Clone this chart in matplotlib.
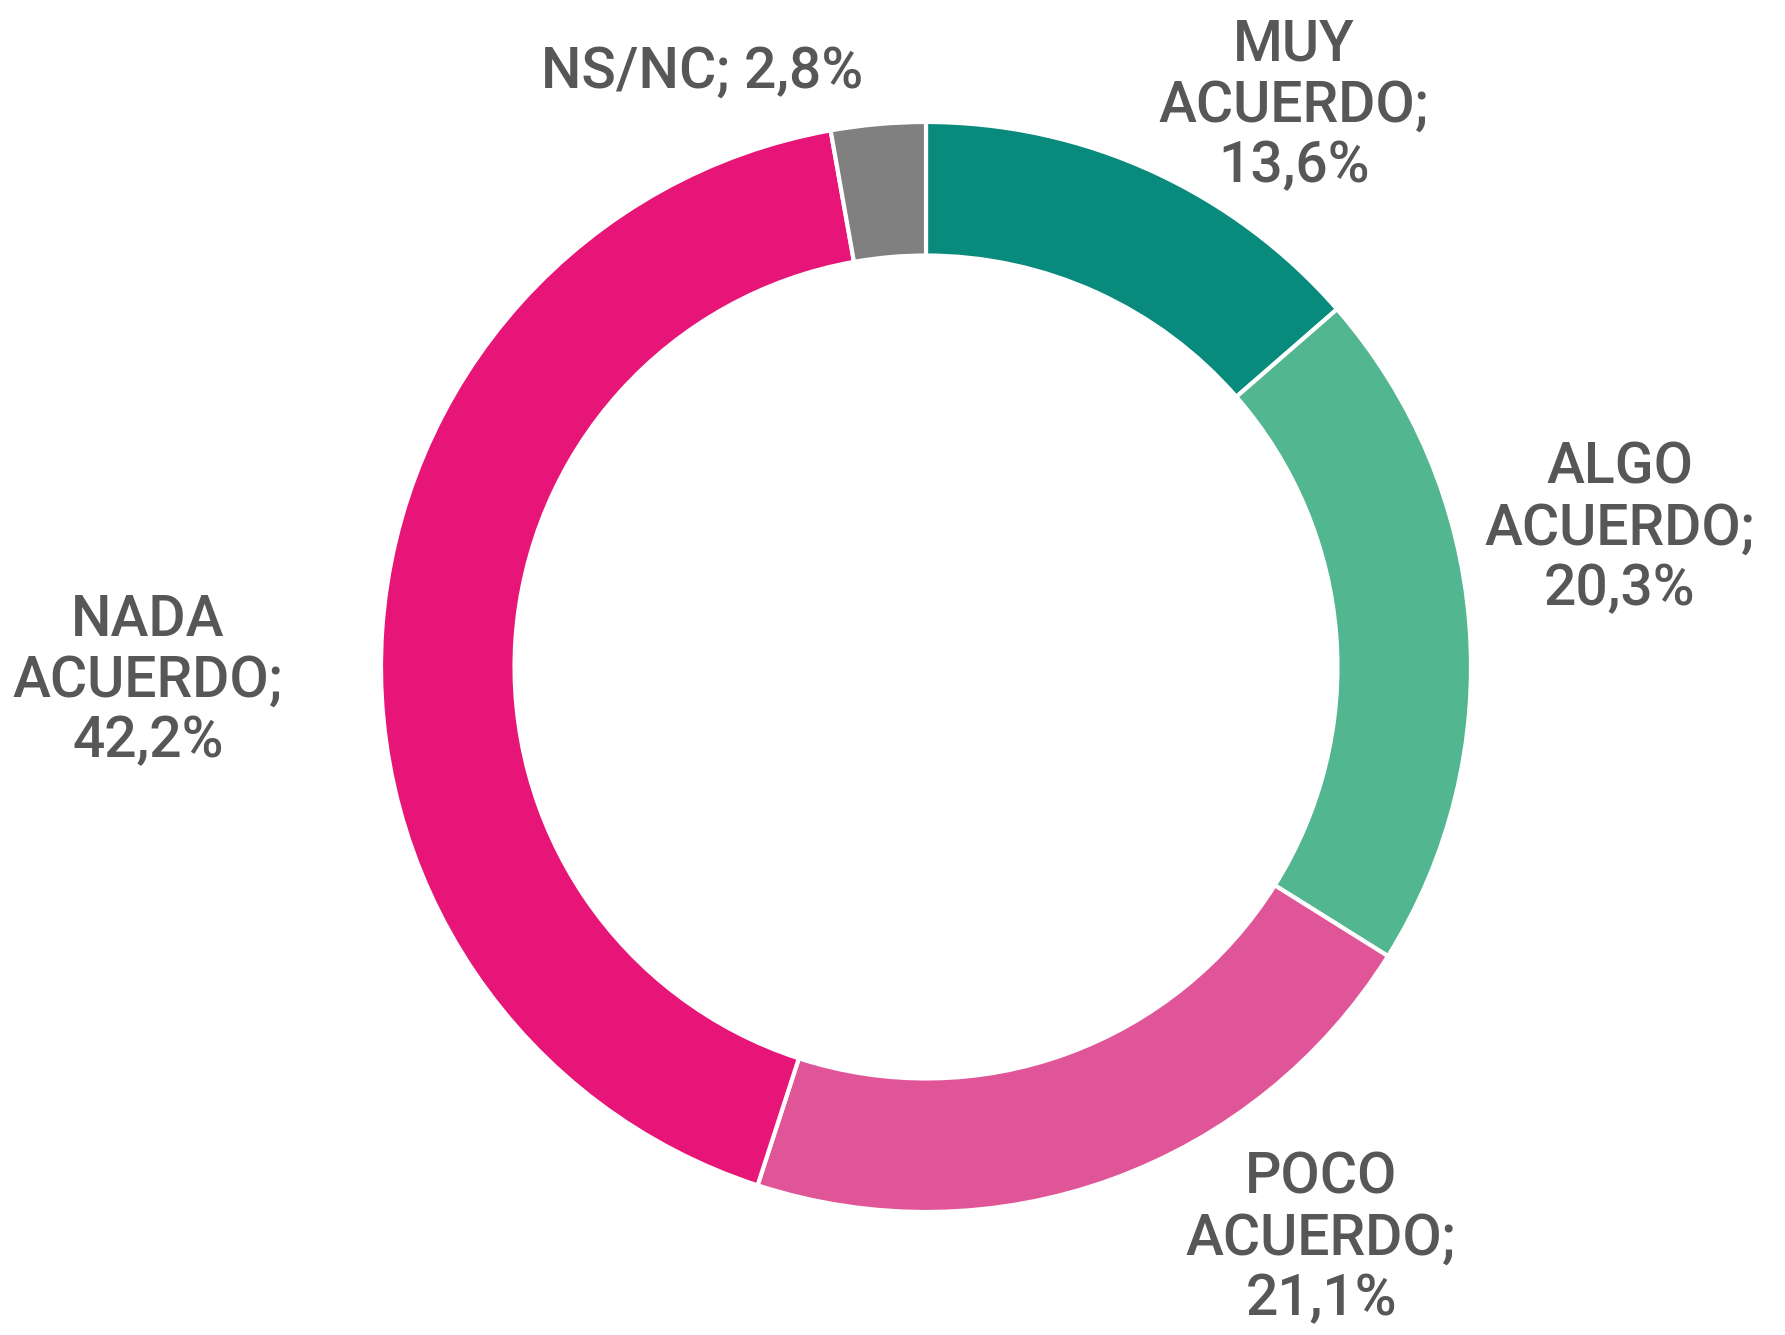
import matplotlib
matplotlib.use("Agg")
import matplotlib.pyplot as plt

categories = ["MUY\nACUERDO;", "ALGO\nACUERDO;", "POCO\nACUERDO;", "NADA\nACUERDO;", "NS/NC;"]
values = [13.6, 20.3, 21.1, 42.2, 2.8]
colors = ["#088a7c", "#52b690", "#e05597", "#e61577", "#808080"]

W, H = 1785, 1335
fig = plt.figure(figsize=(W / 100, H / 100), dpi=100)
ax = fig.add_axes([0, 0, 1, 1])
ax.set_xlim(0, W)
ax.set_ylim(0, H)
ax.set_aspect("equal")
ax.axis("off")

cx, cy, R = 926, H - 667, 545
ax.pie(values, colors=colors, startangle=90, counterclock=False,
       center=(cx, cy), radius=R,
       wedgeprops=dict(width=R * 0.245, edgecolor="white", linewidth=3))
ax.set_xlim(0, W)
ax.set_ylim(0, H)

def fmt(v):
    return f"{v:.1f}".replace(".", ",") + "%"

# label anchor positions (pixel coords from top-left), multi-line block centers
pos = [(1294, 106), (1620, 529), (1321, 1239), (148, 681), (702, 72)]
for cat, v, (px, py) in zip(categories, values, pos):
    if cat.startswith("NS"):
        txt = f"{cat} {fmt(v)}"
    else:
        txt = f"{cat}\n{fmt(v)}"
    ax.text(px, H - py, txt, ha="center", va="center", fontsize=41,
            family="Roboto", weight="medium", color="#575757", linespacing=1.13)

fig.savefig("out.png", dpi=100)
